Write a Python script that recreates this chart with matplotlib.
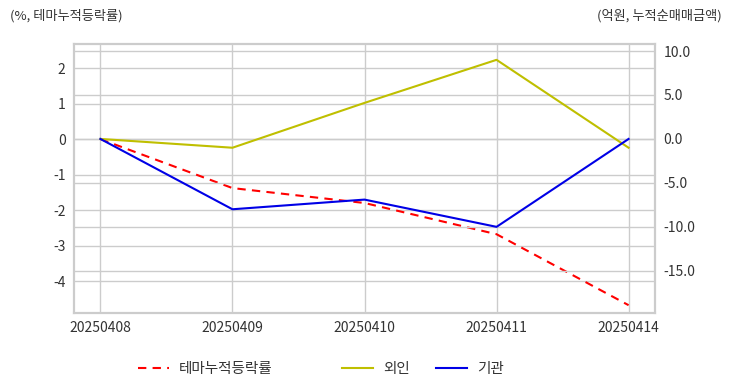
import matplotlib
matplotlib.use("Agg")
import matplotlib.pyplot as plt

plt.rcParams['font.family'] = ['Noto Sans CJK KR', 'DejaVu Sans']

dates = ["20250408", "20250409", "20250410", "20250411", "20250414"]
theme_return = [0.0, -1.38, -1.80, -2.68, -4.68]
foreign = [0.0, -1.0, 4.1, 9.0, -1.0]
institution = [0.0, -8.0, -6.9, -10.0, 0.0]

left_ticks = [2, 1, 0, -1, -2, -3, -4]
right_ticks = [10.0, 5.0, 0.0, -5.0, -10.0, -15.0]

fig = plt.figure(figsize=(7.32, 3.92), dpi=100)
ax = fig.add_axes([74/732, 1-313/392, (655-74)/732, (313-44)/392])
ax2 = ax.twinx()

x = list(range(len(dates)))
grid_c = '#cccccc'
txt_c = '#333333'

l1, = ax.plot(x, theme_return, color='#ff0000', linestyle=(0, (4, 3)), linewidth=1.5, label='테마누적등락률')
l2, = ax2.plot(x, foreign, color='#bfbf00', linewidth=1.5, label='외인')
l3, = ax2.plot(x, institution, color='#0000e6', linewidth=1.5, label='기관')

ax.set_xlim(-0.2, 4.2)
ax.set_ylim(-4.9, 2.68)
ax2.set_ylim(-19.8, 10.8)
ax.set_xticks(x)
ax.set_xticklabels(dates)
ax.set_yticks(left_ticks)
ax.set_yticklabels([str(t) for t in left_ticks])
ax2.set_yticks(right_ticks)
ax2.set_yticklabels([f"{t:.1f}" for t in right_ticks])

for a in (ax, ax2):
    a.grid(True, color=grid_c, linewidth=1)
    for s in a.spines.values():
        s.set_color(grid_c)
        s.set_linewidth(1.5)
    a.tick_params(length=0, labelsize=10, colors=txt_c, pad=6)
ax2.grid(True, axis='y', color=grid_c, linewidth=1)
ax2.set_zorder(ax.get_zorder() + 1)
ax2.patch.set_visible(False)
ax.set_axisbelow(True)
ax2.set_axisbelow(True)

fig.text(10/732, 1-16/392, '(%, 테마누적등락률)', fontsize=9.5, color=txt_c, va='center', ha='left')
fig.text(722/732, 1-16/392, '(억원, 누적순매매금액)', fontsize=9.5, color=txt_c, va='center', ha='right')

for h, xpos in [(l1, 138), (l2, 342), (l3, 436)]:
    fig.legend(handles=[h], loc='center left', bbox_to_anchor=(xpos/732, 1-369/392),
               frameon=False, fontsize=10.5, handlelength=2.1, handletextpad=0.7,
               borderpad=0, borderaxespad=0, labelcolor=txt_c)

fig.savefig('out.png', dpi=100, facecolor='white')
